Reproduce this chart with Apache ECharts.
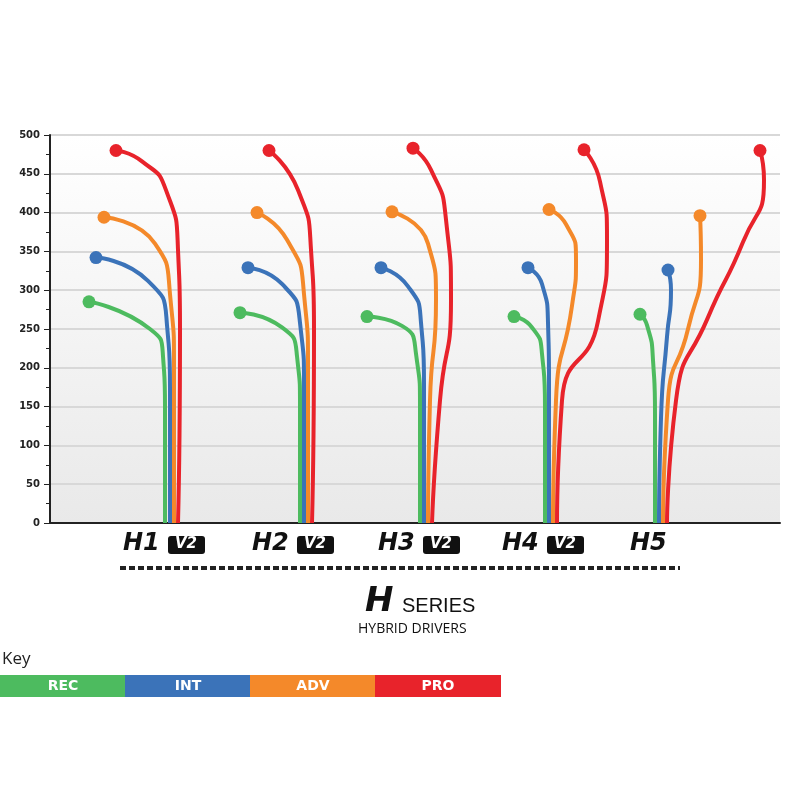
<!DOCTYPE html>
<html><head><meta charset="utf-8">
<script src="https://cdn.jsdelivr.net/npm/echarts@6/dist/echarts.min.js"></script>
<style>html,body{margin:0;padding:0;background:#fff}#c{width:800px;height:800px}</style>
</head><body><div id="c"></div>
<script>
const yTicks = [0,50,100,150,200,250,300,350,400,450,500];
const groups = ['H1','H2','H3','H4','H5'];
const seriesNames = ['REC','INT','ADV','PRO'];
const colors = ['#4dbb5f','#3b73b9','#f4892a','#e8232b'];
// Each curve: [position, value] points from base to end dot
const H1_REC = [[165,0],[165,150],[163,215],[150,250],[89,285]];
const H1_INT = [[170,0],[170,175],[167,255],[148,312],[96,342]];
const H1_ADV = [[174,0],[174,200],[170,295],[155,360],[104,394]];
const H1_PRO = [[178,0],[180,249],[178,352],[166,429],[142,466],[116,480]];
const H2_REC = [[300,0],[300,150],[297,215],[282,252],[240,271]];
const H2_INT = [[304,0],[304,175],[300,258],[282,308],[248,329]];
const H2_ADV = [[308,0],[308,200],[304,295],[287,365],[257,400]];
const H2_PRO = [[312,0],[314,249],[311,352],[298,429],[269,480]];
const H3_REC = [[420,0],[420,150],[416,218],[402,254],[367,266]];
const H3_INT = [[424,0],[424,180],[421,258],[408,305],[381,329]];
const H3_ADV = [[428,0],[430,158],[436,287],[428,360],[392,401]];
const H3_PRO = [[432,0],[440,158],[451,287],[446,391],[431,455],[413,483]];
const H4_REC = [[545,0],[545,150],[542,218],[532,252],[514,266]];
const H4_INT = [[549,0],[549,180],[548,258],[542,308],[528,329]];
const H4_ADV = [[553,0],[556,158],[572,280],[576,340],[566,385],[549,404]];
const H4_PRO = [[557,0],[562,158],[598,260],[607,365],[600,440],[584,481]];
const H5_REC = [[655,0],[655,140],[653,210],[647,255],[640,269]];
const H5_INT = [[659,0],[661,135],[667,240],[671,300],[668,326]];
const H5_ADV = [[663,0],[668,158],[688,250],[701,340],[700,396]];
const H5_PRO = [[667,0],[676,158],[708,265],[743,362],[764,442],[760,480]];
const curves = [
  [H1_REC,H1_INT,H1_ADV,H1_PRO],[H2_REC,H2_INT,H2_ADV,H2_PRO],[H3_REC,H3_INT,H3_ADV,H3_PRO],
  [H4_REC,H4_INT,H4_ADV,H4_PRO],[H5_REC,H5_INT,H5_ADV,H5_PRO]];

const series = [];
curves.forEach((g,gi)=>g.forEach((pts,si)=>{
  series.push({type:'line',name:seriesNames[si],data:pts,smooth:0.6,
    lineStyle:{color:colors[si],width:4},itemStyle:{color:colors[si]},
    symbol:'circle',showAllSymbol:true,
    symbolSize:(v,p)=>p.dataIndex===pts.length-1?13:0,
    silent:true,z:3});
}));

const chart = echarts.init(document.getElementById('c'));
const grid = {left:50,right:20,top:135,bottom:277};
const labelX = [153,282,408,532,660];
const gfx = [];
groups.forEach((g,i)=>{
  gfx.push({type:'text',left:labelX[i]-30,top:532,style:{text:g,font:'italic 900 24px "DejaVu Sans"',fill:'#111'}});
  if(i<4){
    gfx.push({type:'rect',shape:{x:labelX[i]+15,y:536,width:37,height:18,r:3},style:{fill:'#111'}});
    gfx.push({type:'text',left:labelX[i]+22,top:537,style:{text:'V2',font:'italic 900 15px "DejaVu Sans"',fill:'#fff'}});
  }
});
gfx.push({type:'line',shape:{x1:120,y1:568,x2:680,y2:568},style:{stroke:'#222',lineWidth:4,lineDash:[6,3]}});
gfx.push({type:'text',left:365,top:585,style:{text:'H',font:'italic 900 34px "DejaVu Sans"',fill:'#111'}});
gfx.push({type:'text',left:402,top:596,style:{text:'SERIES',font:'20px "Liberation Sans"',fill:'#111'}});
gfx.push({type:'text',left:358,top:622,style:{text:'HYBRID DRIVERS',font:'500 14px "Open Sans"',fill:'#111',letterSpacing:1.5}});
gfx.push({type:'text',left:2,top:651,style:{text:'Key',font:'17px "Open Sans"',fill:'#222'}});
seriesNames.forEach((n,i)=>{
  gfx.push({type:'rect',shape:{x:i*125,y:675,width:126,height:22},style:{fill:colors[i]}});
  gfx.push({type:'text',x:i*125+63,y:686,style:{text:n,font:'bold 14px "DejaVu Sans"',fill:'#fff',align:'center',verticalAlign:'middle'}});
});
gfx.push({type:'rect',z:-1,shape:{x:50,y:135,width:730,height:388},style:{fill:new echarts.graphic.LinearGradient(0,0,0,1,[{offset:0,color:'#ffffff'},{offset:1,color:'#e9e9e9'}])}});

chart.setOption({
  animation:false,
  grid,
  xAxis:{type:'value',min:50,max:780,show:true,axisLabel:{show:false},axisTick:{show:false},splitLine:{show:false},
    axisLine:{lineStyle:{color:'#222',width:2}}},
  yAxis:{type:'value',min:yTicks[0],max:yTicks[yTicks.length-1],interval:50,
    axisLine:{show:true,lineStyle:{color:'#222',width:2}},
    axisTick:{show:true,inside:false,length:6,lineStyle:{color:'#222'}},
    minorTick:{show:true,splitNumber:2,length:4,lineStyle:{color:'#222'}},
    axisLabel:{color:'#222',fontSize:10,fontWeight:'bold',margin:10,fontFamily:'DejaVu Sans'},
    splitLine:{show:true,lineStyle:{color:'#d8d8d8',width:2}}},
  graphic:gfx,
  series
});
</script></body></html>
